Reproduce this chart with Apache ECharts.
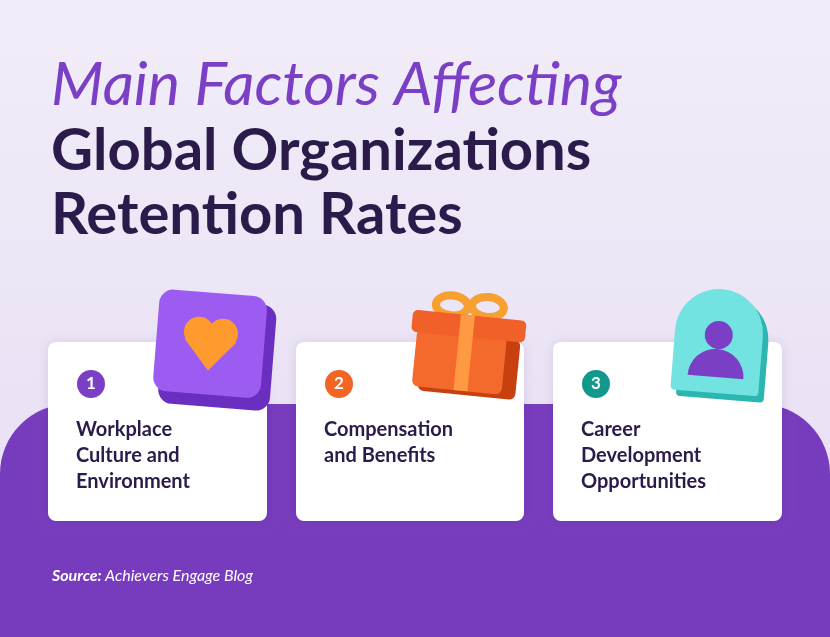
<!DOCTYPE html>
<html>
<head>
<meta charset="utf-8">
<script src="https://cdn.jsdelivr.net/npm/echarts@6/dist/echarts.min.js"></script>
<style>html,body{margin:0;padding:0;}#main{width:830px;height:637px;}</style>
</head>
<body>
<div id="main"></div>
<script>
// 数据
var titleLines = ['Main Factors Affecting', 'Global Organizations', 'Retention Rates'];
var factorNumbers = ['1', '2', '3'];
var factorLabels = [
  ['Workplace', 'Culture and', 'Environment'],
  ['Compensation', 'and Benefits'],
  ['Career', 'Development', 'Opportunities']
];
var badgeColors = ['#7b3fc6', '#f26522', '#12998c'];
var sourceText = 'Achievers Engage Blog';

var chart = echarts.init(document.getElementById('main'));
var cardX = [48, 296, 553];
var cardW = [219, 228, 229];
var els = [];

// 背景
els.push({type: 'rect', shape: {x: 0, y: 0, width: 830, height: 637},
  style: {fill: new echarts.graphic.LinearGradient(0, 0, 0, 1, [
    {offset: 0, color: '#f1edf8'}, {offset: 0.6, color: '#ebe3f5'}, {offset: 1, color: '#e6dcf3'}])}});
els.push({type: 'rect', shape: {x: 0, y: 404, width: 830, height: 233, r: [70, 70, 0, 0]},
  style: {fill: '#773cbd'}});

// 标题
titleLines.forEach(function (t, i) {
  els.push({type: 'text', x: 51, y: (i == 0 ? 55 : 58) + i * 64, style: {
    text: t, fontFamily: 'Lato', fontSize: i == 0 ? 61 : 58, fontWeight: i == 0 ? 'normal' : 'bold',
    fontStyle: i == 0 ? 'italic' : 'normal', fill: i == 0 ? '#7b3fc6' : '#2b1b4b'}});
});

// 卡片
factorLabels.forEach(function (lines, i) {
  var x = cardX[i];
  els.push({type: 'rect', shape: {x: x, y: 342, width: cardW[i], height: 179, r: 8},
    style: {fill: '#ffffff', shadowBlur: 12, shadowColor: 'rgba(60,20,110,0.12)'}});
  els.push({type: 'circle', shape: {cx: x + 43, cy: 384, r: 14}, style: {fill: badgeColors[i]}});
  els.push({type: 'text', x: x + 43, y: 384, style: {text: factorNumbers[i], fill: '#fff',
    fontFamily: 'Lato', fontWeight: 'bold', fontSize: 17, align: 'center', verticalAlign: 'middle'}});
  els.push({type: 'text', x: x + 28, y: 417, style: {text: lines.join('\n'), fill: '#2b1b4b',
    fontFamily: 'Lato', fontWeight: 'bold', fontSize: 20, lineHeight: 26}});
});

// 图标1：爱心方块
els.push({type: 'group', x: 214, y: 345, rotation: -0.08, children: [
  {type: 'rect', shape: {x: -52, y: -44, width: 112, height: 106, r: 14}, style: {fill: '#6a2fc0'}},
  {type: 'rect', shape: {x: -58, y: -52, width: 108, height: 102, r: 14}, style: {fill: '#9c5cf2'}},
  {type: 'circle', shape: {cx: -16, cy: -12, r: 15}, style: {fill: '#ff9b2e'}},
  {type: 'circle', shape: {cx: 8, cy: -12, r: 15}, style: {fill: '#ff9b2e'}},
  {type: 'polygon', shape: {points: [[-30, -4], [22, -4], [-4, 26]]}, style: {fill: '#ff9b2e'}}
]});
// 图标2：礼物
els.push({type: 'group', x: 466, y: 345, rotation: -0.1, children: [
  {type: 'ellipse', shape: {cx: -18, cy: -38, rx: 16, ry: 10}, style: {fill: 'none', stroke: '#f5a030', lineWidth: 8}},
  {type: 'ellipse', shape: {cx: 18, cy: -40, rx: 16, ry: 10}, style: {fill: 'none', stroke: '#f5a030', lineWidth: 8}},
  {type: 'rect', shape: {x: -44, y: -10, width: 98, height: 60, r: 6}, style: {fill: '#c9400f'}},
  {type: 'rect', shape: {x: -50, y: -12, width: 90, height: 58, r: 6}, style: {fill: '#f46a2c'}},
  {type: 'rect', shape: {x: -56, y: -30, width: 114, height: 22, r: 5}, style: {fill: '#f06028'}},
  {type: 'rect', shape: {x: -8, y: -30, width: 14, height: 76}, style: {fill: '#ff9a42'}}
]});
// 图标3：人物
els.push({type: 'group', x: 718, y: 345, rotation: -0.08, children: [
  {type: 'rect', shape: {x: -38, y: -50, width: 88, height: 104, r: [44, 44, 4, 4]}, style: {fill: '#2bb6b0'}},
  {type: 'rect', shape: {x: -44, y: -56, width: 88, height: 104, r: [44, 44, 4, 4]}, style: {fill: '#72e3e0'}},
  {type: 'circle', shape: {cx: 0, cy: -10, r: 14}, style: {fill: '#7b3fc6'}},
  {type: 'sector', shape: {cx: 0, cy: 32, r0: 0, r: 28, startAngle: Math.PI, endAngle: 2 * Math.PI}, style: {fill: '#7b3fc6'}}
]});

// 来源
els.push({type: 'text', x: 52, y: 568, style: {
  rich: {b: {fontWeight: 'bold', fontStyle: 'italic', fontFamily: 'Lato', fontSize: 16, fill: '#fff'},
         n: {fontStyle: 'italic', fontFamily: 'Lato', fontSize: 16, fill: '#fff'}},
  text: '{b|Source:} {n|' + sourceText + '}'}});

chart.setOption({graphic: {elements: els}});
window.onresize = function () { chart.resize(); };
</script>
</body>
</html>
